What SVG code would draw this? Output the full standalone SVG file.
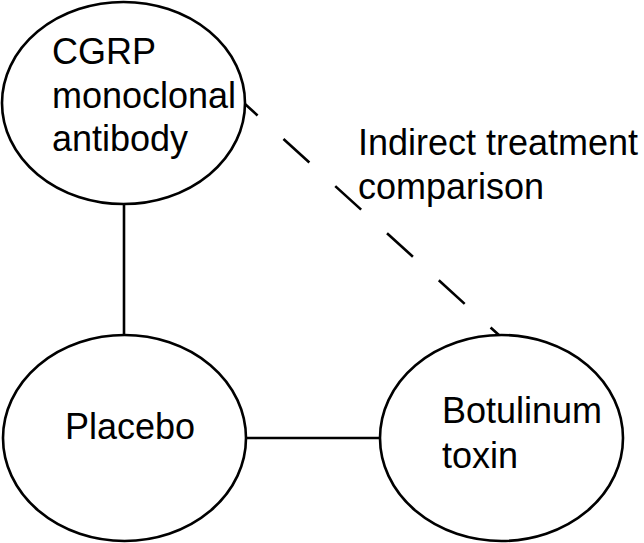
<svg xmlns="http://www.w3.org/2000/svg" width="644" height="543" viewBox="0 0 644 543">
<style>
.node{fill:#fff;stroke:#000;stroke-width:2.6}
.t{font-family:"Liberation Sans",Arial,sans-serif;font-size:36px;fill:#000}
.edge{stroke:#000;stroke-width:2.6;fill:none}
.dash{stroke-dasharray:35 35;stroke-dashoffset:18}
</style>
<rect width="644" height="543" fill="#fff"/>
<g id="connectors">
<line class="edge" x1="124" y1="204" x2="124" y2="335"/>
<line class="edge" x1="246" y1="438" x2="380" y2="438"/>
<line class="edge dash" x1="245" y1="104" x2="500" y2="336"/>
</g>
<g id="cgrp">
<ellipse class="node" cx="123.5" cy="103" rx="121.5" ry="101"/>
<text class="t" x="52" y="64">CGRP</text>
<text class="t" x="52" y="108">monoclonal</text>
<text class="t" x="52" y="151">antibody</text>
</g>
<g id="placebo">
<ellipse class="node" cx="124.5" cy="438" rx="121.5" ry="103"/>
<text class="t" x="65" y="439">Placebo</text>
</g>
<g id="botulinum">
<ellipse class="node" cx="501.5" cy="438" rx="121.5" ry="103"/>
<text class="t" x="442" y="423">Botulinum</text>
<text class="t" x="442" y="468">toxin</text>
</g>
<g id="label">
<text class="t" x="358" y="155">Indirect treatment</text>
<text class="t" x="358" y="199">comparison</text>
</g>
</svg>
